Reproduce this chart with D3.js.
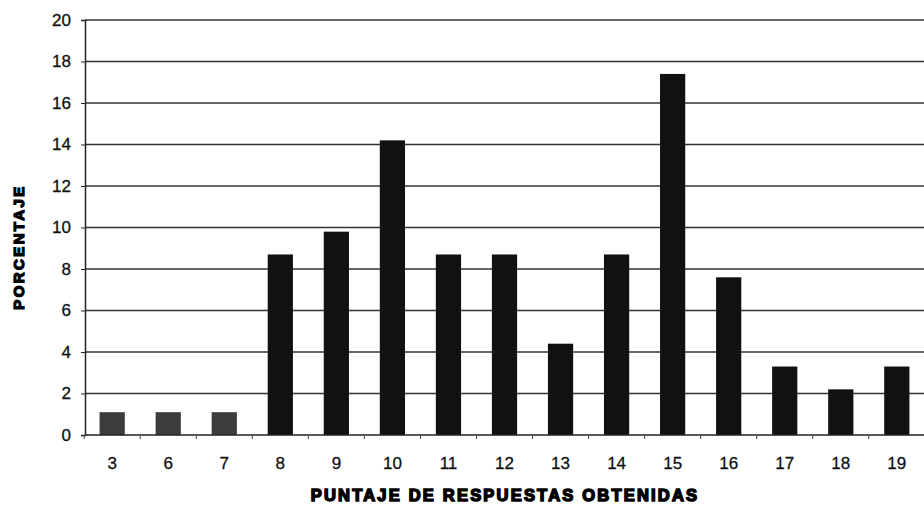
<!DOCTYPE html>
<html>
<head>
<meta charset="utf-8">
<script src="https://cdn.jsdelivr.net/npm/d3@7"></script>
<style>
  body { margin: 0; background: #fff; }
  svg { display: block; }
</style>
</head>
<body>
<div id="chart"></div>
<script>
// puntajes (categorias del eje x)
const puntajes = ['3', '6', '7', '8', '9', '10', '11', '12', '13', '14', '15', '16', '17', '18', '19'];
// porcentaje de alumnos por puntaje
const porcentajes = [1.1, 1.1, 1.1, 8.7, 9.8, 14.2, 8.7, 8.7, 4.4, 8.7, 17.4, 7.6, 3.3, 2.2, 3.3];
const yTicks = [0, 2, 4, 6, 8, 10, 12, 14, 16, 18, 20];

const width = 924, height = 506;
const margin = { top: 20, right: 0, bottom: 71, left: 85 };
const innerW = width - margin.left - margin.right;
const innerH = height - margin.top - margin.bottom;

const data = puntajes.map((p, i) => ({ x: p, y: porcentajes[i] }));

const svg = d3.select('#chart').append('svg')
  .attr('width', width)
  .attr('height', height)
  .style('font-family', 'Arial, "Liberation Sans", sans-serif');

const g = svg.append('g')
  .attr('transform', `translate(${margin.left},${margin.top})`);

// scales
const x = d3.scaleBand()
  .domain(puntajes)
  .range([0, innerW])
  .paddingInner(0.55)
  .paddingOuter(0.26);

const y = d3.scaleLinear()
  .domain([0, 20])
  .range([innerH, 0]);

// grid lines
g.append('g')
  .selectAll('line')
  .data(yTicks.filter(d => d > 0))
  .enter().append('line')
  .attr('x1', 0)
  .attr('x2', innerW)
  .attr('y1', d => y(d))
  .attr('y2', d => y(d))
  .attr('stroke', '#333')
  .attr('stroke-width', 1.3);

// bars
g.append('g')
  .selectAll('rect')
  .data(data)
  .enter().append('rect')
  .attr('x', d => x(d.x))
  .attr('y', d => y(d.y))
  .attr('width', x.bandwidth())
  .attr('height', d => innerH - y(d.y))
  .attr('fill', (d, i) => i < 3 ? '#3c3c3c' : '#111');

// y axis
const yAxis = g.append('g')
  .call(d3.axisLeft(y).tickValues(yTicks).tickSize(4).tickPadding(10));
yAxis.attr('font-size', null);
yAxis.select('.domain').attr('stroke', '#222').attr('stroke-width', 1.5);
yAxis.selectAll('.tick line').attr('stroke', '#222');
yAxis.selectAll('.tick text')
  .attr('fill', '#111')
  .attr('stroke', '#111')
  .attr('stroke-width', 0.3)
  .style('font-size', '17px');

// x axis: ticks between categories
const xAxis = g.append('g')
  .attr('transform', `translate(0,${innerH})`);
xAxis.append('line')
  .attr('x1', 0).attr('x2', innerW)
  .attr('stroke', '#222').attr('stroke-width', 1.5);
xAxis.selectAll('.sep')
  .data(puntajes)
  .enter().append('line')
  .attr('class', 'sep')
  .attr('x1', d => x(d) - x.step() * x.paddingInner() / 2)
  .attr('x2', d => x(d) - x.step() * x.paddingInner() / 2)
  .attr('y1', 0).attr('y2', 4)
  .attr('stroke', '#444');
xAxis.selectAll('.lbl')
  .data(puntajes)
  .enter().append('text')
  .attr('class', 'lbl')
  .attr('x', d => x(d) + x.bandwidth() / 2)
  .attr('y', 34)
  .attr('text-anchor', 'middle')
  .attr('fill', '#111')
  .attr('stroke', '#111')
  .attr('stroke-width', 0.3)
  .style('font-size', '17px')
  .text(d => d);

// axis titles
svg.append('text')
  .attr('x', 505)
  .attr('y', 501)
  .attr('text-anchor', 'middle')
  .attr('fill', '#000')
  .attr('stroke', '#000')
  .attr('stroke-width', 1.5)
  .style('font-size', '16.5px')
  .style('font-weight', 'bold')
  .style('letter-spacing', '2.2px')
  .text('PUNTAJE DE RESPUESTAS OBTENIDAS');

svg.append('text')
  .attr('transform', 'translate(24,247) rotate(-90)')
  .attr('text-anchor', 'middle')
  .attr('fill', '#000')
  .attr('stroke', '#000')
  .attr('stroke-width', 1.3)
  .style('font-size', '15px')
  .style('font-weight', 'bold')
  .style('letter-spacing', '2.4px')
  .text('PORCENTAJE');
</script>
</body>
</html>
